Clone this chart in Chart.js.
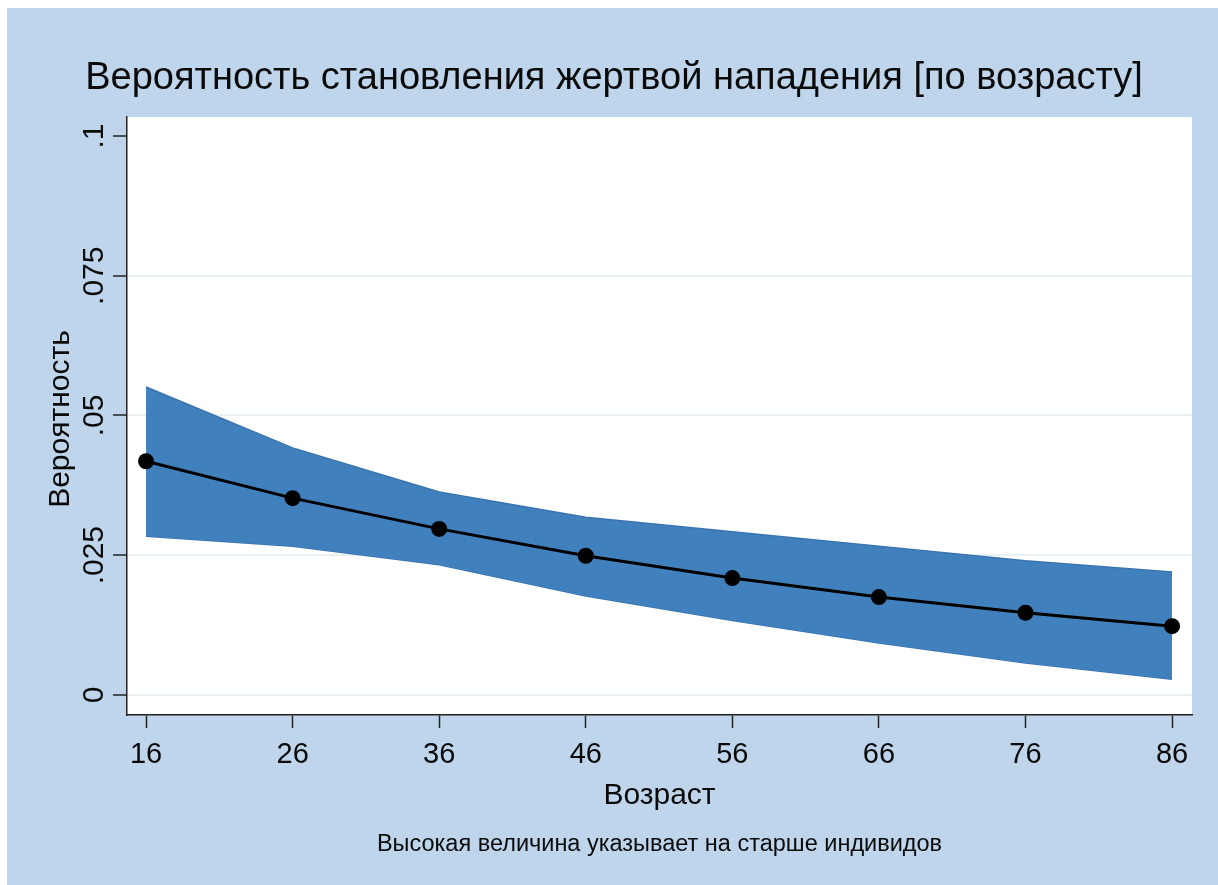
<!DOCTYPE html>
<html>
<head>
<meta charset="utf-8">
<script src="https://cdn.jsdelivr.net/npm/chart.js@4/dist/chart.umd.min.js"></script>
<style>
  html, body { margin:0; padding:0; background:#fff; }
  #wrap { width:1218px; height:885px; }
</style>
</head>
<body>
<div id="wrap"><canvas id="grafik" width="1218" height="885"></canvas></div>
<script>
const ages = [16,26,36,46,56,66,76,86];
const prob = [0.0418,0.0352,0.0297,0.0249,0.0209,0.0175,0.0147,0.0123];
const upper = [0.0551,0.0442,0.0363,0.0318,0.0292,0.0266,0.0240,0.0220];
const lower = [0.0284,0.0266,0.0233,0.0177,0.0133,0.0093,0.0057,0.0028];
const yTicks = [0,0.025,0.05,0.075,0.1];
const yTickLabels = ["0",".025",".05",".075",".1"];

const title = "Вероятность становления жертвой нападения [по возрасту]";
const yTitle = "Вероятность";
const xTitle = "Возраст";
const note = "Высокая величина указывает на старше индивидов";

const FONT = "'Liberation Sans', Arial, sans-serif";
const BG = "#bfd5eb";

const pts = a => ages.map((x,i) => ({x:x, y:a[i]}));

// background, white plot region, all texts
const decor = {
    id:"decor",
    beforeDraw(c){
        const g = c.ctx, a = c.chartArea;
        g.save();
        g.fillStyle = "#fff";
        g.fillRect(0,0,c.width,c.height);
        g.fillStyle = BG;
        g.fillRect(7,8,c.width-7,c.height-8);
        g.fillStyle = "#fff";
        g.fillRect(a.left,a.top,a.right-a.left,a.bottom-a.top);
        g.restore();
    },
    afterDraw(c){
        const g = c.ctx, a = c.chartArea;
        const ys = c.scales.y, xs = c.scales.x;
        const cx = (a.left+a.right)/2;
        g.save();
        g.fillStyle = "#0a0a0a";
        g.textAlign = "center";
        g.textBaseline = "alphabetic";

        g.font = "38px " + FONT;
        g.fillText(title, 614, 89);

        // y tick labels, rotated
        g.font = "30px " + FONT;
        ys.ticks.forEach((t,i) => {
            const py = ys.getPixelForValue(t.value);
            g.save();
            g.translate(103, py);
            g.rotate(-Math.PI/2);
            g.fillText(yTickLabels[i], 0, 0);
            g.restore();
        });

        // x tick labels
        g.font = "29px " + FONT;
        xs.ticks.forEach(t => {
            g.fillText(String(t.value), xs.getPixelForValue(t.value), 763);
        });

        g.font = "30px " + FONT;
        g.save();
        g.translate(69, (a.top+a.bottom)/2 + 3);
        g.rotate(-Math.PI/2);
        g.fillText(yTitle, 0, 0);
        g.restore();

        g.fillText(xTitle, cx, 804);

        g.font = "23.5px " + FONT;
        g.fillText(note, cx, 851);
        g.restore();
    }
};

new Chart(document.getElementById("grafik"), {
    type:"line",
    data:{
        datasets:[
            {
                label:"upper",
                data:pts(upper),
                borderColor:"#3a74ae",
                borderWidth:1.5,
                backgroundColor:"#4080bd",
                pointRadius:0,
                fill:"+1",
                order:2
            },
            {
                label:"lower",
                data:pts(lower),
                borderColor:"#3a74ae",
                borderWidth:1.5,
                pointRadius:0,
                fill:false,
                order:2
            },
            {
                label:"prob",
                data:pts(prob),
                borderColor:"#000",
                borderWidth:3,
                backgroundColor:"#000",
                pointRadius:8,
                pointBorderWidth:0,
                fill:false,
                order:1
            }
        ]
    },
    options:{
        responsive:false,
        animation:false,
        layout:{ padding:{ left:113, top:117, right:26, bottom:157 } },
        plugins:{
            legend:{display:false},
            tooltip:{enabled:false}
        },
        scales:{
            x:{
                type:"linear",
                min:14.7,
                max:87.36,
                afterBuildTicks: s => { s.ticks = ages.map(v => ({value:v})); },
                afterFit: s => { s.height = 13; },
                ticks:{ display:false },
                grid:{
                    drawOnChartArea:false,
                    drawTicks:true,
                    tickLength:13,
                    tickColor:"#222",
                    tickWidth:1.5
                },
                border:{ color:"#222", width:1.5 }
            },
            y:{
                min:-0.0036,
                max:0.1034,
                afterBuildTicks: s => { s.ticks = yTicks.map(v => ({value:v})); },
                afterFit: s => { s.width = 14; },
                ticks:{ display:false },
                grid:{
                    color: ctx => (ctx.tick && ctx.tick.value === 0.1) ? "rgba(0,0,0,0)" : "#e9f0f4",
                    lineWidth:2,
                    drawTicks:true,
                    tickLength:14,
                    tickColor:"#222",
                    tickWidth:1.5
                },
                border:{ color:"#222", width:1.5 }
            }
        }
    },
    plugins:[decor]
});
</script>
</body>
</html>
